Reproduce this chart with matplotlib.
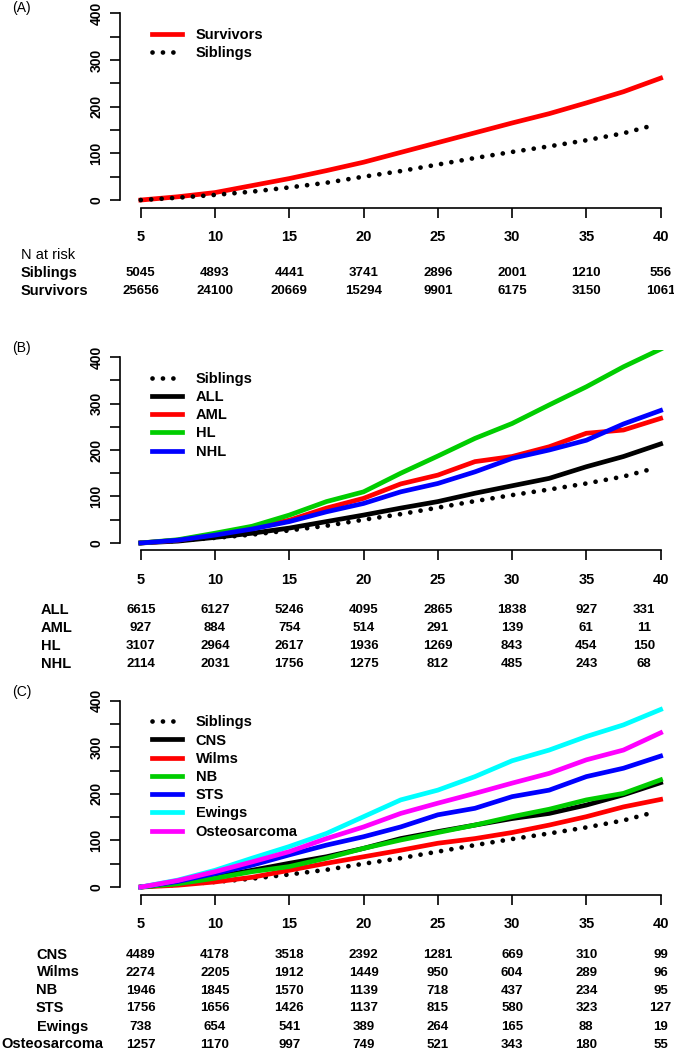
import matplotlib
matplotlib.use("Agg")
import matplotlib.pyplot as plt
from matplotlib.transforms import blended_transform_factory

plt.rcParams['font.family'] = ['Liberation Sans', 'DejaVu Sans']

# ---- data ----
ages = [5, 7.5, 10, 12.5, 15, 17.5, 20, 22.5, 25, 27.5, 30, 32.5, 35, 37.5, 40]
sib_ages = [5, 7.5, 10, 12.5, 15, 17.5, 20, 22.5, 25, 27.5, 30, 32.5, 35, 37.5, 39.5]
siblings = [0, 5, 11, 18, 27, 37, 50, 62, 76, 90, 103, 115, 128, 143, 160]

survivors = [0, 7, 16, 31, 46, 63, 81, 102, 123, 144, 165, 185, 208, 232, 261]

all_ = [0, 4, 12, 21, 32, 46, 60, 75, 89, 107, 123, 139, 164, 186, 213]
aml = [0, 6, 19, 33, 49, 75, 96, 127, 146, 175, 186, 207, 236, 243, 268]
hl = [0, 7, 21, 36, 60, 89, 110, 150, 187, 225, 257, 297, 336, 379, 417]
nhl = [0, 6, 17, 30, 46, 67, 85, 110, 128, 153, 182, 200, 221, 256, 285]

cns = [0, 9, 22, 36, 51, 65, 83, 104, 119, 133, 147, 158, 176, 198, 224]
wilms = [0, 4, 11, 21, 36, 51, 65, 79, 94, 104, 117, 133, 151, 172, 188]
nb = [0, 7, 19, 33, 44, 62, 83, 101, 117, 133, 151, 167, 187, 201, 230]
sts = [0, 12, 29, 47, 69, 90, 108, 129, 155, 169, 194, 208, 237, 255, 281]
ewings = [0, 15, 36, 62, 87, 115, 151, 187, 208, 237, 271, 294, 323, 348, 381]
osteo = [0, 14, 33, 54, 76, 104, 129, 158, 180, 201, 223, 244, 273, 294, 331]

risk_years = [5, 10, 15, 20, 25, 30, 35, 40]
risk_years_b = [5, 10, 15, 20, 25, 30, 35, 38.9]
n_siblings = [5045, 4893, 4441, 3741, 2896, 2001, 1210, 556]
n_survivors = [25656, 24100, 20669, 15294, 9901, 6175, 3150, 1061]
n_all = [6615, 6127, 5246, 4095, 2865, 1838, 927, 331]
n_aml = [927, 884, 754, 514, 291, 139, 61, 11]
n_hl = [3107, 2964, 2617, 1936, 1269, 843, 454, 150]
n_nhl = [2114, 2031, 1756, 1275, 812, 485, 243, 68]
n_cns = [4489, 4178, 3518, 2392, 1281, 669, 310, 99]
n_wilms = [2274, 2205, 1912, 1449, 950, 604, 289, 96]
n_nb = [1946, 1845, 1570, 1139, 718, 437, 234, 95]
n_sts = [1756, 1656, 1426, 1137, 815, 580, 323, 127]
n_ewings = [738, 654, 541, 389, 264, 165, 88, 19]
n_osteo = [1257, 1170, 997, 749, 521, 343, 180, 55]

W, H = 674, 1050
fig = plt.figure(figsize=(W / 100, H / 100), dpi=100)

LW = 3.4
SIB_STYLE = dict(color="black", lw=3.4, linestyle=(0, (0.01, 2.2)),
                 dash_capstyle="round", label="Siblings")


def make_axes(top, bottom, left=120, right=681.4):
    ax = fig.add_axes([left / W, 1 - bottom / H, (right - left) / W, (bottom - top) / H])
    ax.set_xlim(3.6, 41.4)
    ax.set_ylim(-16, 416)
    for s in ["top", "right"]:
        ax.spines[s].set_visible(False)
    ax.spines["left"].set_bounds(0, 400)
    ax.spines["bottom"].set_bounds(5, 40)
    ax.spines["left"].set_linewidth(1.2)
    ax.spines["bottom"].set_linewidth(1.2)
    ax.set_yticks(range(0, 401, 50))
    ax.set_yticklabels(["0", "", "100", "", "200", "", "300", "", "400"],
                       rotation=90, va="center", fontweight="bold", fontsize=10)
    ax.set_xticks(risk_years)
    ax.set_xticklabels([str(v) for v in risk_years], fontweight="bold", fontsize=10.5)
    ax.tick_params(axis="y", length=7, width=1.2, pad=5)
    ax.tick_params(axis="x", length=7, width=1.2, pad=9)
    ax.patch.set_alpha(0)
    return ax


def legend(ax):
    ax.legend(loc="upper left", bbox_to_anchor=(0.057, 0.89), frameon=False,
              borderpad=0, borderaxespad=0, handlelength=2.05, handletextpad=0.95,
              labelspacing=0.29, prop=dict(weight="bold", size=10.5))


def risk_row(ax, y, label, label_x, values, years=risk_years):
    fig.text(label_x / W, 1 - y / H, label, ha="left", va="center",
             fontweight="bold", fontsize=10.5)
    tr = blended_transform_factory(ax.transData, fig.transFigure)
    for xv, n in zip(years, values):
        ax.text(xv, 1 - y / H, str(n), transform=tr, ha="center", va="center",
                fontweight="bold", fontsize=9.5, clip_on=False)


# ---- (A) ----
axA = make_axes(5.8, 207.5)
axA.plot(ages, survivors, color="red", lw=LW, label="Survivors")
axA.plot(sib_ages, siblings, **SIB_STYLE)
legend(axA)
fig.text(12 / W, 1 - 8 / H, "(A)", ha="left", va="center", fontsize=10)
fig.text(21 / W, 1 - 255 / H, "N at risk", ha="left", va="center", fontsize=10.5)
risk_row(axA, 273, "Siblings", 21, n_siblings)
risk_row(axA, 291, "Survivors", 21, n_survivors)

# ---- (B) ----
axB = make_axes(349.6, 550.4)
axB.plot(sib_ages, siblings, **SIB_STYLE)
axB.plot(ages, all_, color="black", lw=LW, label="ALL")
axB.plot(ages, aml, color="red", lw=LW, label="AML")
axB.plot(ages, hl, color="#00CD00", lw=LW, label="HL")
axB.plot(ages, nhl, color="blue", lw=LW, label="NHL")
legend(axB)
fig.text(12 / W, 1 - 348 / H, "(B)", ha="left", va="center", fontsize=10)
risk_row(axB, 610, "ALL", 41, n_all, risk_years_b)
risk_row(axB, 628, "AML", 41, n_aml, risk_years_b)
risk_row(axB, 646, "HL", 41, n_hl, risk_years_b)
risk_row(axB, 664, "NHL", 41, n_nhl, risk_years_b)

# ---- (C) ----
axC = make_axes(693.2, 894.5)
axC.plot(sib_ages, siblings, **SIB_STYLE)
axC.plot(ages, cns, color="black", lw=LW, label="CNS")
axC.plot(ages, wilms, color="red", lw=LW, label="Wilms")
axC.plot(ages, nb, color="#00CD00", lw=LW, label="NB")
axC.plot(ages, sts, color="blue", lw=LW, label="STS")
axC.plot(ages, ewings, color="cyan", lw=LW, label="Ewings")
axC.plot(ages, osteo, color="magenta", lw=LW, label="Osteosarcoma")
legend(axC)
fig.text(12 / W, 1 - 692 / H, "(C)", ha="left", va="center", fontsize=10)
risk_row(axC, 955, "CNS", 36, n_cns)
risk_row(axC, 972.5, "Wilms", 37, n_wilms)
risk_row(axC, 990.5, "NB", 36, n_nb)
risk_row(axC, 1008, "STS", 36, n_sts)
risk_row(axC, 1026.5, "Ewings", 37, n_ewings)
risk_row(axC, 1044.5, "Osteosarcoma", 1, n_osteo)

fig.savefig("out.png", dpi=100)
